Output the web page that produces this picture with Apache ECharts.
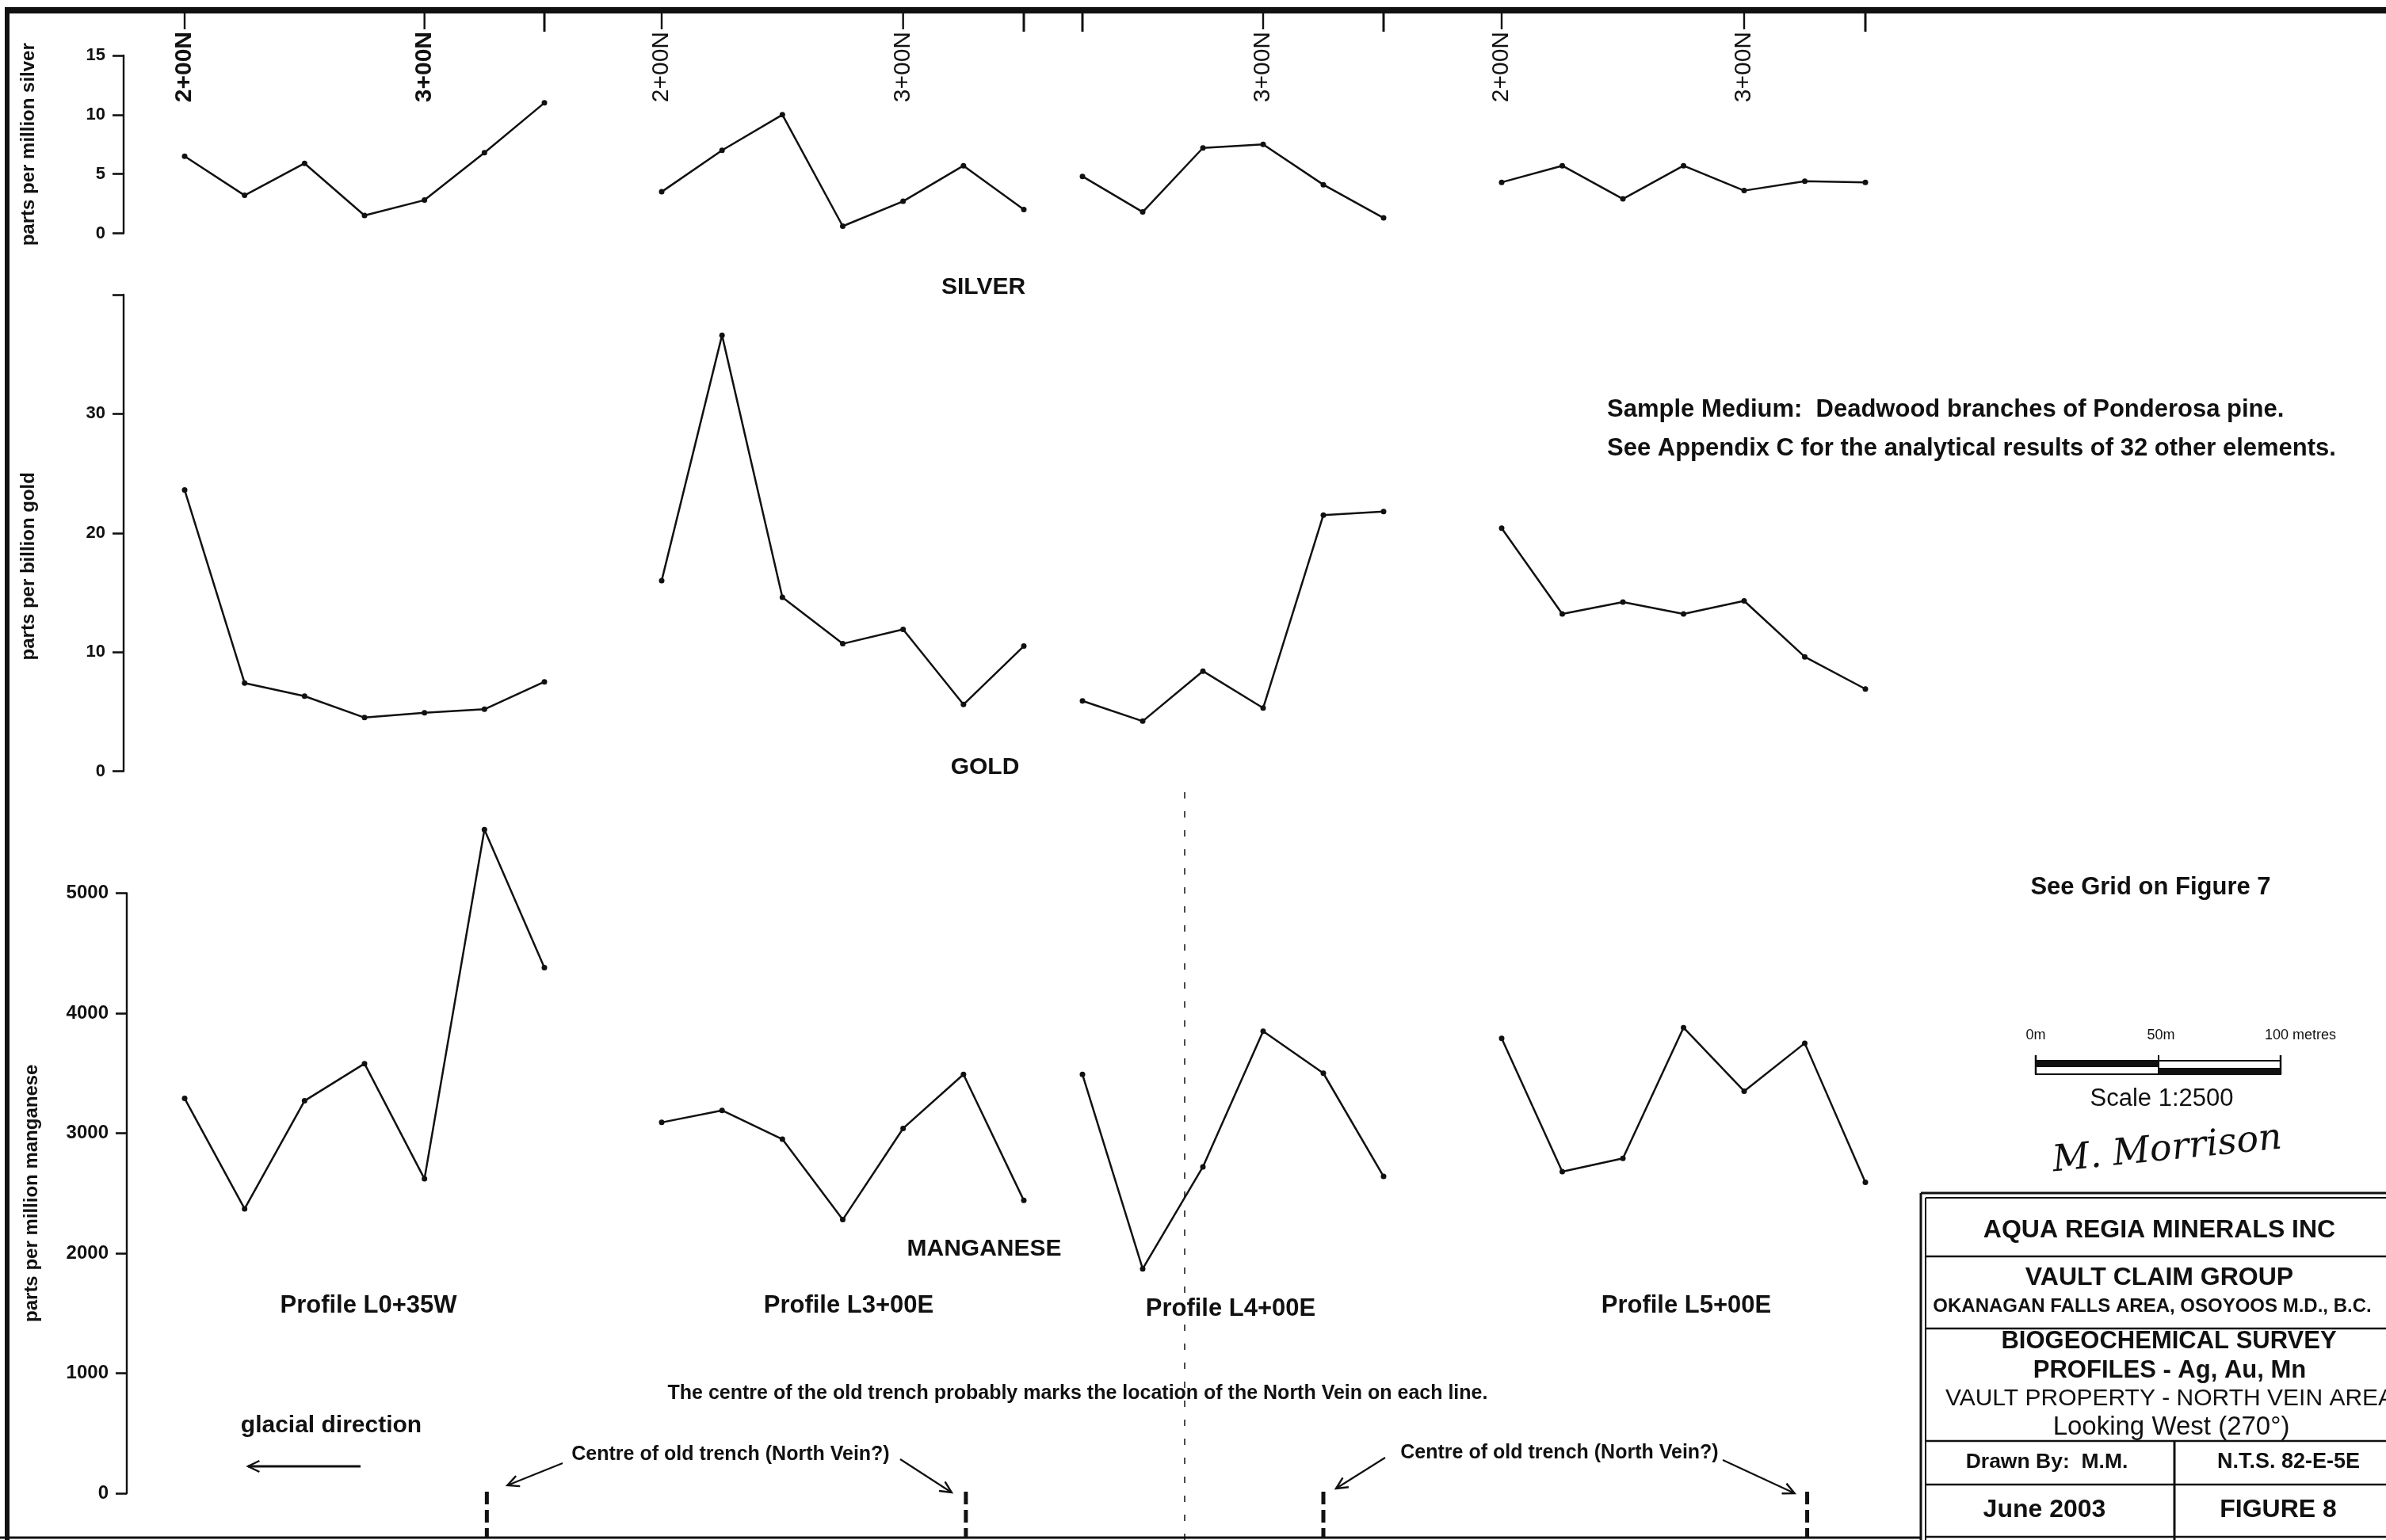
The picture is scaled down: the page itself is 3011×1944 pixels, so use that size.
<!DOCTYPE html>
<html>
<head>
<meta charset="utf-8">
<script src="https://cdn.jsdelivr.net/npm/echarts@6.0.0/dist/echarts.min.js"></script>
<style>
  html, body { margin: 0; padding: 0; background: #fff; }
  #main { width: 3011px; height: 1944px; }
</style>
</head>
<body>
<div id="main"></div>
<script>
// ---- data ----
var profileNames = ['Profile L0+35W', 'Profile L3+00E', 'Profile L4+00E', 'Profile L5+00E'];

// northing of each sample station (metres, 2+00N = 200)
var northingL0 = [200, 225, 250, 275, 300, 325, 350];
var northingL3 = [200, 225, 250, 275, 300, 325, 350];
var northingL4 = [225, 250, 275, 300, 325, 350];
var northingL5 = [200, 225, 250, 275, 300, 325, 350];

// silver, ppm
var silverL0 = [6.5, 3.2, 5.9, 1.5, 2.8, 6.8, 11.0];
var silverL3 = [3.5, 7.0, 10.0, 0.6, 2.7, 5.7, 2.0];
var silverL4 = [4.8, 1.8, 7.2, 7.5, 4.1, 1.3];
var silverL5 = [4.3, 5.7, 2.9, 5.7, 3.6, 4.4, 4.3];

// gold, ppb
var goldL0 = [23.6, 7.4, 6.3, 4.5, 4.9, 5.2, 7.5];
var goldL3 = [16.0, 36.6, 14.6, 10.7, 11.9, 5.6, 10.5];
var goldL4 = [5.9, 4.2, 8.4, 5.3, 21.5, 21.8];
var goldL5 = [20.4, 13.2, 14.2, 13.2, 14.3, 9.6, 6.9];

// manganese, ppm
var manganeseL0 = [3290, 2370, 3270, 3580, 2620, 5530, 4380];
var manganeseL3 = [3090, 3190, 2950, 2280, 3040, 3490, 2440];
var manganeseL4 = [3490, 1870, 2720, 3850, 3500, 2640];
var manganeseL5 = [3790, 2680, 2790, 3880, 3350, 3750, 2590];

// station ticks along the top edge and their labels
var stationTicks = [[200, 300, 350], [200, 300, 350], [225, 300, 350], [200, 300, 350]];
var stationLabelValues = [[200, 300], [200, 300], [300], [200, 300]];
var stationLabels = { 200: '2+00N', 300: '3+00N' };

// centre of the old trench on each line (northing)
var trenchNorthing = [326, 326, 325, 326];

var elementNames = ['SILVER', 'GOLD', 'MANGANESE'];
var yAxisNames = ['parts per million silver', 'parts per billion gold', 'parts per million manganese'];
var yMax = [15, 40, 5000];
var yInterval = [5, 10, 1000];

// ---- layout ----
var FONT = "'Liberation Sans', Arial, Helvetica, sans-serif";
var INK = '#111';
var colLeft = [233, 835, 1366, 1895];
var colWidth = [454, 457, 380, 459];
var xMin = [200, 200, 225, 200];
var rowTop = [70, 372, 1127.5];
var rowHeight = [224.5, 601.5, 757.5];
var yOffset = [77, 77, 73];

var northings = [northingL0, northingL3, northingL4, northingL5];
var values = [
  [silverL0, silverL3, silverL4, silverL5],
  [goldL0, goldL3, goldL4, goldL5],
  [manganeseL0, manganeseL3, manganeseL4, manganeseL5]
];

var grids = [], xAxes = [], yAxes = [], series = [];
for (var r = 0; r < 3; r++) {
  for (var c = 0; c < 4; c++) {
    var g = r * 4 + c;
    grids.push({ left: colLeft[c], top: rowTop[r], width: colWidth[c], height: rowHeight[r], containLabel: false, outerBoundsMode: 'none' });

    xAxes.push({
      gridIndex: g, type: 'value', min: xMin[c], max: 350, position: 'top',
      show: r === 0, offset: 57,
      axisLine: { show: false },
      axisTick: { show: false },
      axisLabel: {
        show: true, inside: true, rotate: 90, margin: 27, customValues: stationLabelValues[c],
        fontSize: 30, fontWeight: c === 0 ? 'bold' : 'normal', fontFamily: FONT, color: INK,
        formatter: function (v) { return stationLabels[v] || ''; }
      },
      splitLine: { show: false }
    });

    var yax = {
      gridIndex: g, type: 'value', min: 0, max: yMax[r], interval: yInterval[r],
      show: c === 0, position: 'left', offset: yOffset[r],
      axisLine: { show: true, lineStyle: { color: INK, width: 2.4 } },
      axisTick: { show: true, inside: false, length: 14, lineStyle: { color: INK, width: 2.6 } },
      axisLabel: {
        margin: 23, fontSize: r === 2 ? 24 : 22, fontWeight: 'bold', fontFamily: FONT, color: INK,
        formatter: (function (mx) { return function (v) { return (mx === 40 && v === 40) ? '' : String(v); }; })(yMax[r])
      },
      splitLine: { show: false }
    };
    if (c === 0) {
      yax.name = yAxisNames[r];
      yax.nameLocation = 'middle';
      yax.nameGap = 108;
      yax.nameTextStyle = { fontSize: 24, fontWeight: 'bold', fontFamily: FONT, color: INK,
        padding: r === 1 ? [0, 84, 0, 0] : [0, 0, 0, 0] };
    }
    yAxes.push(yax);

    var pts = [];
    for (var i = 0; i < northings[c].length; i++) pts.push([northings[c][i], values[r][c][i]]);
    series.push({
      type: 'line', xAxisIndex: g, yAxisIndex: g, data: pts,
      symbol: 'circle', symbolSize: 7, showSymbol: true, clip: false, silent: true,
      lineStyle: { color: INK, width: 2.5 }, itemStyle: { color: INK }
    });
  }
}

var dom = document.getElementById('main');
var myChart = echarts.init(dom, null, { renderer: 'canvas' });
var option = {
  animation: false,
  backgroundColor: '#fff',
  textStyle: { fontFamily: FONT, color: INK },
  grid: grids, xAxis: xAxes, yAxis: yAxes, series: series
};
myChart.setOption(option, true);

// ---- annotations ----
function txt(x, y, s, size, weight, align, extra) {
  var st = { text: s, fontSize: size, fontWeight: weight || 'bold', fontFamily: FONT, fill: INK,
    align: align || 'center', verticalAlign: 'middle', textAlign: align || 'center', textVerticalAlign: 'middle' };
  if (extra) for (var k in extra) st[k] = extra[k];
  return { type: 'text', x: x, y: y, style: st, z: 10 };
}
function ln(x1, y1, x2, y2, w, dash) {
  return { type: 'line', shape: { x1: x1, y1: y1, x2: x2, y2: y2 },
    style: { stroke: INK, lineWidth: w || 2, lineDash: dash || null }, z: 10 };
}
function head(tipX, tipY, fromX, fromY, len) {
  var a = Math.atan2(tipY - fromY, tipX - fromX), s = 0.45;
  return { type: 'polyline', z: 10, shape: { points: [
    [tipX - len * Math.cos(a - s), tipY - len * Math.sin(a - s)], [tipX, tipY],
    [tipX - len * Math.cos(a + s), tipY - len * Math.sin(a + s)]] },
    style: { stroke: INK, lineWidth: 2.4, fill: 'none' } };
}

var gfx = [];
// frame
gfx.push(ln(9, 9, 9, 1944, 6));
gfx.push(ln(6, 13, 3011, 13, 8));
gfx.push(ln(0, 1941, 2424, 1941, 3));
// faint fold line
gfx.push(ln(1495, 1000, 1495, 1944, 1.5, [8, 16]));

// station ticks hanging from the top edge, placed with the silver x axes
for (var sc = 0; sc < 4; sc++) {
  for (var st = 0; st < stationTicks[sc].length; st++) {
    var tv = stationTicks[sc][st];
    var tx = myChart.convertToPixel({ xAxisIndex: sc }, tv);
    var isEnd = stationLabelValues[sc].indexOf(tv) < 0;
    gfx.push(ln(tx, 14, tx, isEnd ? 40 : 37, isEnd ? 3 : 2.4));
  }
}

// element captions
gfx.push(txt(1241, 363, elementNames[0], 30));
gfx.push(txt(1243, 969, elementNames[1], 30));
gfx.push(txt(1242, 1577, elementNames[2], 30));

// profile captions
var profX = [465, 1071, 1553, 2128];
var profY = [1648, 1648, 1652, 1648];
for (var p = 0; p < 4; p++) gfx.push(txt(profX[p], profY[p], profileNames[p], 31));

// notes
gfx.push(txt(2028, 517, 'Sample Medium:  Deadwood branches of Ponderosa pine.', 31, 'bold', 'left'));
gfx.push(txt(2028, 566, 'See Appendix C for the analytical results of 32 other elements.', 31, 'bold', 'left'));
gfx.push(txt(2714, 1120, 'See Grid on Figure 7', 31));
gfx.push(txt(1360, 1759, 'The centre of the old trench probably marks the location of the North Vein on each line.', 25));
gfx.push(txt(922, 1836, 'Centre of old trench (North Vein?)', 25));
gfx.push(txt(1968, 1834, 'Centre of old trench (North Vein?)', 25));

// glacial direction
gfx.push(txt(418, 1800, 'glacial direction', 30));
gfx.push(ln(455, 1851, 313, 1851, 3));
gfx.push(head(313, 1851, 455, 1851, 16));

// trench markers, placed with the manganese x axes
var trenchX = [];
for (var t = 0; t < 4; t++) trenchX.push(myChart.convertToPixel({ xAxisIndex: 8 + t }, trenchNorthing[t]));
for (var t2 = 0; t2 < 4; t2++) gfx.push(ln(trenchX[t2], 1883, trenchX[t2], 1942, 5, [16, 7]));
gfx.push(ln(710, 1847, trenchX[0] + 26, 1875, 2.2));
gfx.push(head(trenchX[0] + 26, 1875, 710, 1847, 16));
gfx.push(ln(1136, 1842, trenchX[1] - 18, 1884, 2.2));
gfx.push(head(trenchX[1] - 18, 1884, 1136, 1842, 16));
gfx.push(ln(1748, 1840, trenchX[2] + 16, 1879, 2.2));
gfx.push(head(trenchX[2] + 16, 1879, 1748, 1840, 16));
gfx.push(ln(2174, 1843, trenchX[3] - 16, 1885, 2.2));
gfx.push(head(trenchX[3] - 16, 1885, 2174, 1843, 16));

// scale bar
gfx.push(txt(2569, 1307, '0m', 18, 'normal'));
gfx.push(txt(2727, 1307, '50m', 18, 'normal'));
gfx.push(txt(2903, 1307, '100 metres', 18, 'normal'));
gfx.push({ type: 'rect', z: 10, shape: { x: 2569, y: 1339, width: 309, height: 17 }, style: { fill: '#fff', stroke: INK, lineWidth: 2 } });
gfx.push({ type: 'rect', z: 11, shape: { x: 2569, y: 1339, width: 155, height: 8 }, style: { fill: INK } });
gfx.push({ type: 'rect', z: 11, shape: { x: 2724, y: 1348, width: 154, height: 8 }, style: { fill: INK } });
gfx.push(ln(2569, 1332, 2569, 1356, 2.5));
gfx.push(ln(2724, 1332, 2724, 1356, 2));
gfx.push(ln(2878, 1332, 2878, 1356, 2.5));
gfx.push(txt(2728, 1387, 'Scale 1:2500', 31, 'normal'));
// signature
gfx.push({ type: 'text', x: 2735, y: 1452, rotation: 0.1, z: 10,
  style: { text: 'M. Morrison', fontSize: 46, fontStyle: 'italic', fontFamily: "'DejaVu Serif', serif", fill: INK,
    align: 'center', verticalAlign: 'middle', textAlign: 'center', textVerticalAlign: 'middle' } });

// title block
gfx.push(ln(2424, 1506, 2424, 1944, 3));
gfx.push(ln(2430, 1512, 2430, 1944, 2));
gfx.push(ln(2424, 1506, 3011, 1506, 3));
gfx.push(ln(2430, 1512, 3011, 1512, 2));
gfx.push(ln(2430, 1586, 3011, 1586, 2.5));
gfx.push(ln(2430, 1677, 3011, 1677, 2.5));
gfx.push(ln(2430, 1819, 3011, 1819, 2.5));
gfx.push(ln(2430, 1874, 3011, 1874, 2.5));
gfx.push(ln(2430, 1940, 3011, 1940, 2.5));
gfx.push(ln(2744, 1819, 2744, 1944, 3));
gfx.push(txt(2725, 1553, 'AQUA REGIA MINERALS INC', 32));
gfx.push(txt(2725, 1613, 'VAULT CLAIM GROUP', 32));
gfx.push(txt(2716, 1649, 'OKANAGAN FALLS AREA, OSOYOOS M.D., B.C.', 24));
gfx.push(txt(2737, 1693, 'BIOGEOCHEMICAL SURVEY', 31));
gfx.push(txt(2738, 1730, 'PROFILES - Ag, Au, Mn', 31));
gfx.push(txt(2738, 1766, 'VAULT PROPERTY - NORTH VEIN AREA', 30, 'normal'));
gfx.push(txt(2740, 1802, 'Looking West (270°)', 33, 'normal'));
gfx.push(txt(2583, 1846, 'Drawn By:  M.M.', 26.5));
gfx.push(txt(2888, 1846, 'N.T.S. 82-E-5E', 27));
gfx.push(txt(2580, 1906, 'June 2003', 32));
gfx.push(txt(2875, 1906, 'FIGURE 8', 32));

myChart.setOption({ graphic: { elements: gfx } });
</script>
</body>
</html>
